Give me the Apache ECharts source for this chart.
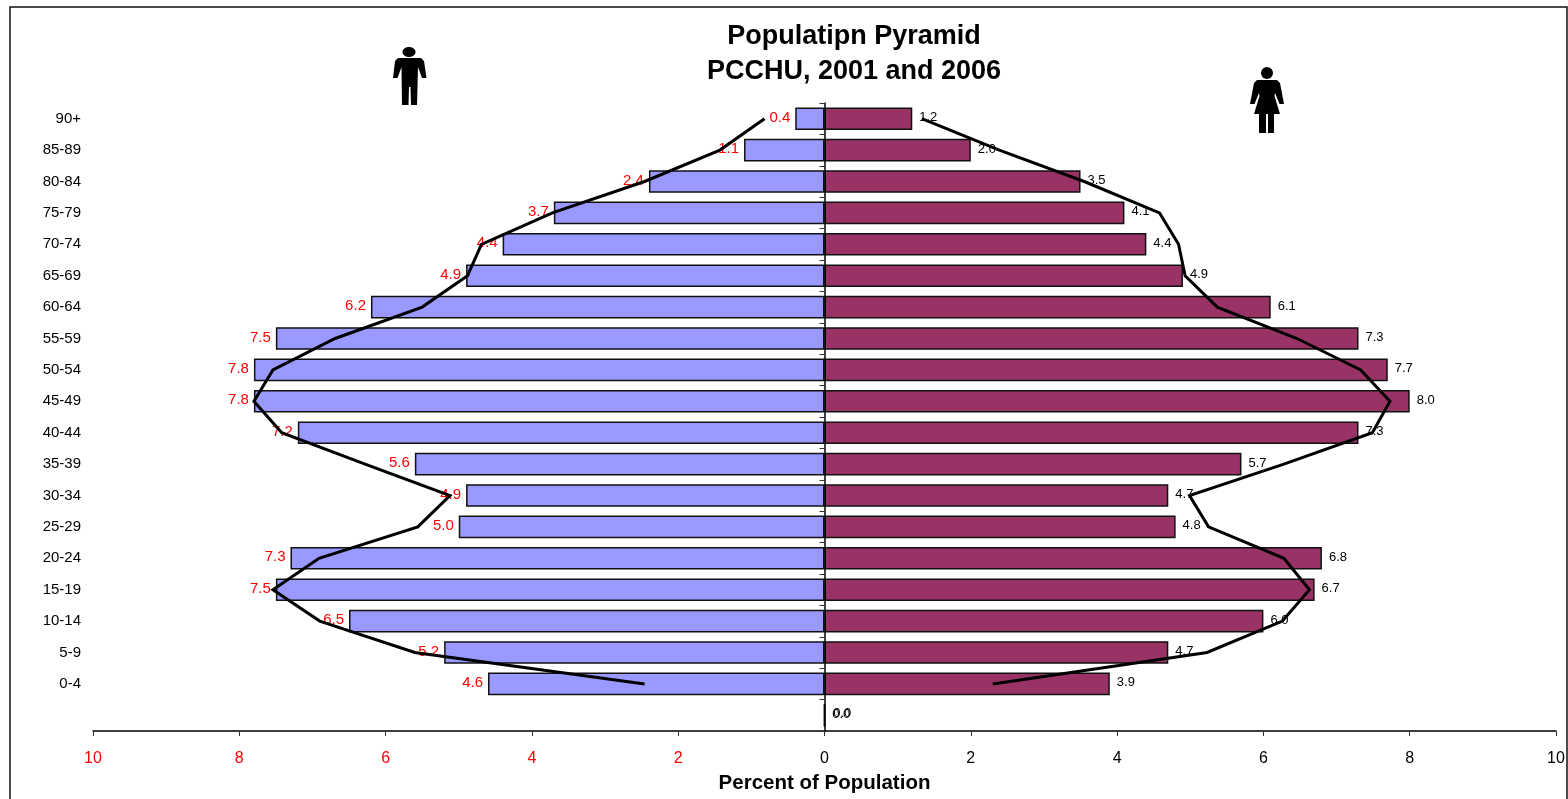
<!DOCTYPE html>
<html>
<head>
<meta charset="utf-8">
<style>html,body{margin:0;padding:0;background:#fff}#c{width:1568px;height:799px}</style>
<script src="https://cdn.jsdelivr.net/npm/echarts@6/dist/echarts.min.js"></script>
</head>
<body>
<div id="c"></div>
<script>
const ageGroups = ['', '0-4','5-9','10-14','15-19','20-24','25-29','30-34','35-39','40-44','45-49','50-54','55-59','60-64','65-69','70-74','75-79','80-84','85-89','90+'];
const male2006 = [0, 4.6,5.2,6.5,7.5,7.3,5.0,4.9,5.6,7.2,7.8,7.8,7.5,6.2,4.9,4.4,3.7,2.4,1.1,0.4];
const female2006 = [0, 3.9,4.7,6.0,6.7,6.8,4.8,4.7,5.7,7.3,8.0,7.7,7.3,6.1,4.9,4.4,4.1,3.5,2.0,1.2];
const male2001 = [null, 2.46,5.6,6.9,7.54,6.91,5.56,5.12,6.28,7.42,7.8,7.54,6.69,5.5,4.88,4.69,3.72,2.46,1.43,0.82];
const female2001 = [null, 2.3,5.23,6.26,6.63,6.28,5.25,4.99,6.28,7.49,7.73,7.33,6.46,5.37,4.93,4.84,4.58,3.55,2.39,1.33];
const titleText = 'Populatipn Pyramid\nPCCHU, 2001 and 2006';
const axisTitle = 'Percent of Population';

const font = '"Liberation Sans", Arial, sans-serif';
const manBody = [[398,58],[421,58],[424,61],[426.5,78],[422,78],[418,67],[417,105],[411,105],[410.5,87],[409,87],[408.5,105],[402,105],[401.5,67],[397.5,78],[393,78],[395,61]];
const womanBody = [[1257,80],[1277,80],[1280,83],[1284,104],[1279.5,104],[1275,93],[1274.5,96],[1280,114],[1274,114],[1274,133],[1268,133],[1268,114],[1266,114],[1266,133],[1259,133],[1259,114],[1254,114],[1259.5,96],[1259,93],[1254.5,104],[1250,104],[1254,83]];

const chart = echarts.init(document.getElementById('c'), null, {renderer:'canvas'});
chart.setOption({
  animation:false,
  backgroundColor:'#fff',
  title:{
    text:titleText, left:849, top:14, textAlign:'center',
    textStyle:{fontFamily:font,fontSize:27,fontWeight:'bold',color:'#000',lineHeight:35}
  },
  grid:{left:93, top:103, width:1463, height:628, containLabel:false},
  xAxis:{
    type:'value', min:-10, max:10, interval:2, position:'bottom',
    splitLine:{show:false},
    axisLine:{show:true,lineStyle:{color:'#000',width:1.5}},
    axisTick:{show:true,length:5,lineStyle:{color:'#333',width:1}},
    axisLabel:{
      margin:20, fontFamily:font, fontSize:16,
      color:v => v < 0 ? '#ff0000' : '#000',
      formatter:v => String(Math.abs(v)),
      showMinLabel:true, showMaxLabel:true, hideOverlap:false
    },
    name:axisTitle, nameLocation:'middle', nameGap:42,
    nameTextStyle:{fontFamily:font,fontSize:20.5,fontWeight:'bold',color:'#000'}
  },
  yAxis:[
    {
      type:'category', data:ageGroups, position:'left',
      axisLine:{show:false,onZero:false}, axisTick:{show:false}, splitLine:{show:false},
      axisLabel:{margin:12, fontFamily:font, fontSize:15, color:'#000', interval:0}
    },
    {
      type:'category', data:ageGroups, position:'left',
      axisLine:{show:true,onZero:true,lineStyle:{color:'#000',width:1.5}},
      axisTick:{show:true,length:5,lineStyle:{color:'#333',width:1}},
      axisLabel:{show:false}, splitLine:{show:false}, z:10
    }
  ],
  series:[
    {
      name:'Male 2006', type:'bar', yAxisIndex:0, barGap:'-100%', barCategoryGap:'28%',
      data:male2006.map((v,i) => i === 0
        ? {value:0,label:{position:'right',distance:8,color:'#000',fontSize:13,offset:[0,-2]}}
        : -v),
      itemStyle:{color:'#9999FF',borderColor:'#111',borderWidth:1.5},
      label:{show:true,position:'left',distance:5,fontFamily:font,fontSize:15,color:'#ff0000',offset:[0,-1],
        formatter:p => Math.abs(p.value).toFixed(1)}
    },
    {
      name:'Female 2006', type:'bar', yAxisIndex:0,
      data:female2006,
      itemStyle:{color:'#993366',borderColor:'#111',borderWidth:1.5},
      label:{show:true,position:'right',distance:7,fontFamily:font,fontSize:13,color:'#000',offset:[0,-1],
        formatter:p => p.value.toFixed(1)}
    },
    {
      name:'Male 2001', type:'line', yAxisIndex:0, data:male2001.map(v => v === null ? null : -v),
      showSymbol:false, symbol:'none', smooth:false, z:5,
      lineStyle:{color:'#000',width:3,join:'miter'}
    },
    {
      name:'Female 2001', type:'line', yAxisIndex:0, data:female2001,
      showSymbol:false, symbol:'none', smooth:false, z:5,
      lineStyle:{color:'#000',width:3,join:'miter'}
    }
  ],
  graphic:[
    {type:'rect',shape:{x:10,y:7,width:1557,height:800},style:{fill:'none',stroke:'#111',lineWidth:1.5},silent:true,z:-1},
    {type:'ellipse',shape:{cx:409,cy:52,rx:6.5,ry:5},style:{fill:'#000'},silent:true},
    {type:'polygon',shape:{points:manBody},style:{fill:'#000'},silent:true},
    {type:'circle',shape:{cx:1267,cy:73,r:6},style:{fill:'#000'},silent:true},
    {type:'polygon',shape:{points:womanBody},style:{fill:'#000'},silent:true}
  ]
});
</script>
</body>
</html>
